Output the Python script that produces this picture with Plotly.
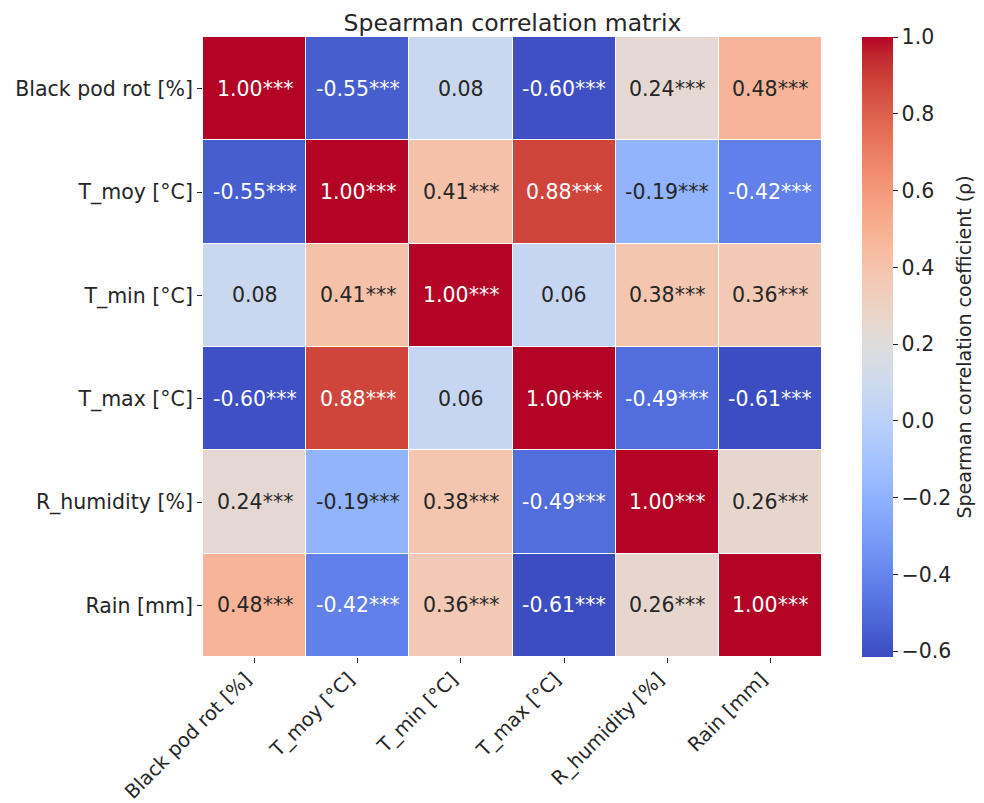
import plotly.graph_objects as go

labels = ["Black pod rot [%]", "T_moy [°C]", "T_min [°C]", "T_max [°C]", "R_humidity [%]", "Rain [mm]"]
row0 = [1.00, -0.55, 0.08, -0.60, 0.24, 0.48]
row1 = [-0.55, 1.00, 0.41, 0.88, -0.19, -0.42]
row2 = [0.08, 0.41, 1.00, 0.06, 0.38, 0.36]
row3 = [-0.60, 0.88, 0.06, 1.00, -0.49, -0.61]
row4 = [0.24, -0.19, 0.38, -0.49, 1.00, 0.26]
row5 = [0.48, -0.42, 0.36, -0.61, 0.26, 1.00]
z = [row0, row1, row2, row3, row4, row5]
stars = [
    ["***", "***", "", "***", "***", "***"],
    ["***", "***", "***", "***", "***", "***"],
    ["", "***", "***", "", "***", "***"],
    ["***", "***", "", "***", "***", "***"],
    ["***", "***", "***", "***", "***", "***"],
    ["***", "***", "***", "***", "***", "***"],
]
zmin, zmax = -0.615, 1.0

cw = [(59,76,192),(68,90,204),(77,104,215),(87,117,225),(98,130,234),(108,142,241),(119,154,247),
      (130,165,251),(141,176,254),(152,185,255),(163,194,255),(174,201,253),(184,208,249),(194,213,244),
      (204,217,238),(213,219,230),(221,221,221),(229,216,209),(236,211,197),(241,204,185),(245,196,173),
      (247,187,160),(247,177,148),(247,166,135),(244,154,123),(241,141,111),(236,127,99),(229,112,88),
      (222,96,77),(213,80,66),(203,62,56),(192,40,47),(180,4,38)]
n = len(cw) - 1
colorscale = [[i / n, "rgb(%d,%d,%d)" % c] for i, c in enumerate(cw)]

def color_at(v):
    t = min(max((v - zmin) / (zmax - zmin), 0), 1) * n
    i = min(int(t), n - 1)
    f = t - i
    return [(cw[i][k] + (cw[i + 1][k] - cw[i][k]) * f) / 255 for k in range(3)]

def lum(rgb):
    lin = [c / 12.92 if c <= 0.03928 else ((c + 0.055) / 1.055) ** 2.4 for c in rgb]
    return 0.2126 * lin[0] + 0.7152 * lin[1] + 0.0722 * lin[2]

font = "DejaVu Sans"
fs = 20.5
fig = go.Figure(go.Heatmap(
    z=z, x=labels, y=labels, zmin=zmin, zmax=zmax, colorscale=colorscale,
    xgap=1, ygap=1, hoverinfo="skip",
    colorbar=dict(
        x=1.0646, xanchor="left", xpad=0, y=0.5, yanchor="middle", len=1, lenmode="fraction",
        ypad=0, thickness=31, outlinewidth=0, ticks="outside", ticklen=5, tickwidth=1, tickcolor="#262626",
        tickvals=[-0.6, -0.4, -0.2, 0.0, 0.2, 0.4, 0.6, 0.8, 1.0], tickformat=".1f",
        tickfont=dict(family=font, size=fs, color="#262626"),
        title=dict(text="Spearman correlation coefficient (ρ)", side="right",
                   font=dict(family=font, size=19, color="#262626")),
    ),
))

ann = []
for i, yl in enumerate(labels):
    for j, xl in enumerate(labels):
        v = z[i][j]
        col = "#262626" if lum(color_at(v)) > 0.408 else "white"
        ann.append(dict(x=xl, y=yl, text="%.2f%s" % (v, stars[i][j]),
                        showarrow=False, font=dict(family=font, size=fs, color=col)))

fig.update_layout(
    width=984, height=803, margin=dict(l=203, r=162, t=37, b=146, autoexpand=False),
    paper_bgcolor="white", plot_bgcolor="white",
    title=dict(text="Spearman correlation matrix", x=0.5, xref="paper", xanchor="center",
               y=1, yref="paper", yanchor="bottom", pad=dict(b=6),
               font=dict(family=font, size=23.5, color="#262626")),
    annotations=ann,
    xaxis=dict(tickangle=-45, ticks="outside", ticklen=5, tickcolor="#262626", showgrid=False,
               automargin=False, zeroline=False, showline=False,
               ticklabelstandoff=-3, ticklabelshift=-9,
               tickfont=dict(family=font, size=19.5, color="#262626")),
    yaxis=dict(autorange="reversed", ticks="outside", ticklen=5, tickcolor="#262626", showgrid=False,
               automargin=False, zeroline=False, showline=False,
               tickfont=dict(family=font, size=fs, color="#262626")),
)
fig.write_html("out.html")
